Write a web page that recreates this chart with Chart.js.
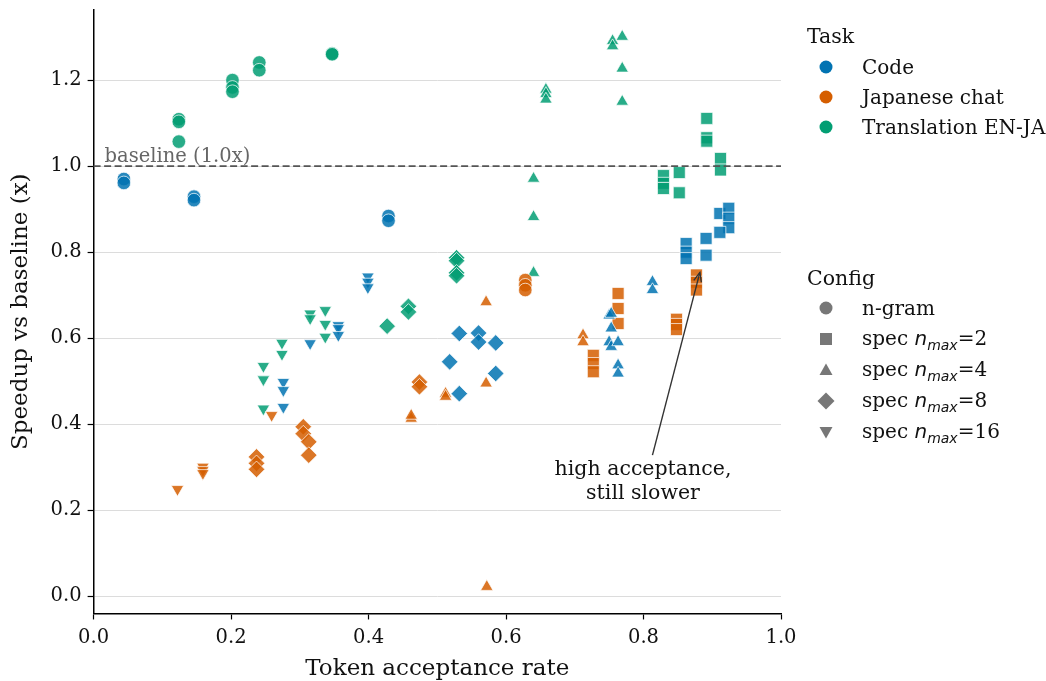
<!DOCTYPE html>
<html>
<head>
<meta charset="utf-8">
<script src="https://cdn.jsdelivr.net/npm/chart.js@4"></script>
<style>
  body { margin: 0; background: #fff; font-family: "DejaVu Serif", serif; }
  #wrap { position: relative; width: 1046px; height: 681px; }
  #legend { position: absolute; left: 0; top: 0; color: #111; }
  .item { position: absolute; display: flex; align-items: center; height: 30px; font-size: 20px; white-space: nowrap; }
  .item svg { width: 24px; height: 20px; margin-right: 24px; }
  .title { position: absolute; font-size: 20.5px; height: 30px; line-height: 30px; white-space: nowrap; }
  .m { font-family: "DejaVu Sans", sans-serif; font-style: italic; }
  sub { font-size: 14px; }
</style>
</head>
<body>
<div id="wrap">
  <canvas id="speedChart" width="1046" height="681"></canvas>
  <div id="legend"></div>
</div>
<script>
// x = token acceptance rate, y = speedup vs baseline, cfg = config index
const configs = ['n-gram', 'spec2', 'spec4', 'spec8', 'spec16'];

const codeX = [0.044, 0.044, 0.146, 0.146, 0.429, 0.429,
  0.862, 0.862, 0.862, 0.891, 0.891, 0.911, 0.924, 0.924, 0.924, 0.911,
  0.813, 0.813, 0.750, 0.753, 0.753, 0.750, 0.753, 0.763, 0.763, 0.763,
  0.532, 0.560, 0.560, 0.585, 0.518, 0.585, 0.532,
  0.399, 0.399, 0.399, 0.356, 0.356, 0.356, 0.315, 0.276, 0.276, 0.276];
const codeY = [0.970, 0.961, 0.929, 0.921, 0.884, 0.873,
  0.820, 0.800, 0.785, 0.832, 0.793, 0.890, 0.902, 0.879, 0.857, 0.846,
  0.731, 0.712, 0.653, 0.657, 0.623, 0.591, 0.580, 0.591, 0.537, 0.518,
  0.611, 0.612, 0.591, 0.589, 0.545, 0.518, 0.471,
  0.743, 0.731, 0.718, 0.630, 0.623, 0.607, 0.588, 0.498, 0.479, 0.440];
const codeCfg = [0, 0, 0, 0, 0, 0,
  1, 1, 1, 1, 1, 1, 1, 1, 1, 1,
  2, 2, 2, 2, 2, 2, 2, 2, 2, 2,
  3, 3, 3, 3, 3, 3, 3,
  4, 4, 4, 4, 4, 4, 4, 4, 4, 4];

const jaX = [0.628, 0.628, 0.628,
  0.877, 0.877, 0.877, 0.763, 0.763, 0.763, 0.848, 0.848, 0.848, 0.727, 0.727, 0.727,
  0.712, 0.712, 0.571, 0.571, 0.572, 0.512, 0.512, 0.462, 0.462,
  0.474, 0.474, 0.305, 0.305, 0.313, 0.313, 0.237, 0.237, 0.237,
  0.122, 0.159, 0.159, 0.159, 0.259];
const jaY = [0.735, 0.723, 0.712,
  0.747, 0.730, 0.712, 0.704, 0.669, 0.634, 0.644, 0.632, 0.620, 0.560, 0.541, 0.522,
  0.607, 0.591, 0.684, 0.495, 0.022, 0.471, 0.464, 0.413, 0.420,
  0.498, 0.487, 0.394, 0.378, 0.359, 0.328, 0.324, 0.309, 0.295,
  0.249, 0.301, 0.293, 0.286, 0.421];
const jaCfg = [0, 0, 0,
  1, 1, 1, 1, 1, 1, 1, 1, 1, 1, 1, 1,
  2, 2, 2, 2, 2, 2, 2, 2, 2,
  3, 3, 3, 3, 3, 3, 3, 3, 3,
  4, 4, 4, 4, 4];

const trX = [0.124, 0.124, 0.124, 0.202, 0.202, 0.202, 0.241, 0.241, 0.347, 0.347,
  0.892, 0.892, 0.892, 0.912, 0.912, 0.829, 0.829, 0.829, 0.852, 0.852,
  0.755, 0.755, 0.769, 0.769, 0.769, 0.658, 0.658, 0.658, 0.640, 0.640, 0.640,
  0.528, 0.528, 0.528, 0.528, 0.458, 0.458, 0.427,
  0.315, 0.315, 0.337, 0.337, 0.337, 0.274, 0.274, 0.247, 0.247, 0.247];
const trY = [1.109, 1.103, 1.057, 1.200, 1.183, 1.173, 1.241, 1.223, 1.262, 1.260,
  1.111, 1.066, 1.058, 1.018, 0.991, 0.978, 0.960, 0.948, 0.985, 0.938,
  1.291, 1.279, 1.301, 1.227, 1.150, 1.178, 1.168, 1.155, 0.971, 0.882, 0.752,
  0.787, 0.780, 0.752, 0.745, 0.674, 0.661, 0.628,
  0.657, 0.646, 0.665, 0.633, 0.603, 0.589, 0.563, 0.535, 0.504, 0.436];
const trCfg = [0, 0, 0, 0, 0, 0, 0, 0, 0, 0,
  1, 1, 1, 1, 1, 1, 1, 1, 1, 1,
  2, 2, 2, 2, 2, 2, 2, 2, 2, 2, 2,
  3, 3, 3, 3, 3, 3, 3,
  4, 4, 4, 4, 4, 4, 4, 4, 4, 4];

const yTicks = [0.0, 0.2, 0.4, 0.6, 0.8, 1.0, 1.2];

const tasks = [
  { name: 'Code', color: '1, 115, 178', x: codeX, y: codeY, cfg: codeCfg },
  { name: 'Japanese chat', color: '213, 94, 0', x: jaX, y: jaY, cfg: jaCfg },
  { name: 'Translation EN-JA', color: '2, 158, 115', x: trX, y: trY, cfg: trCfg }
];

// marker per config
const shapes = [
  { style: 'circle', r: 6.8, rot: 0 },
  { style: 'rect', r: 8.5, rot: 0 },
  { style: 'triangle', r: 7.2, rot: 0 },
  { style: 'rectRot', r: 8.3, rot: 0 },
  { style: 'triangle', r: 7.2, rot: 180 }
];

const datasets = [];
tasks.forEach(t => {
  configs.forEach((c, ci) => {
    const pts = [];
    t.x.forEach((xv, i) => { if (t.cfg[i] === ci) pts.push({ x: xv, y: t.y[i] }); });
    datasets.push({
      label: t.name + ' ' + c,
      data: pts,
      pointStyle: shapes[ci].style,
      pointRadius: shapes[ci].r,
      pointRotation: shapes[ci].rot,
      backgroundColor: 'rgba(' + t.color + ', 0.85)',
      borderColor: 'rgba(255,255,255,0.9)',
      borderWidth: 0.8
    });
  });
});

const extras = {
  id: 'extras',
  afterDatasetsDraw(chart) {
    const ctx = chart.ctx;
    const xs = chart.scales.x, ys = chart.scales.y;
    const area = chart.chartArea;
    ctx.save();
    // baseline
    ctx.strokeStyle = '#555';
    ctx.lineWidth = 1.6;
    ctx.setLineDash([7, 3.5]);
    ctx.beginPath();
    ctx.moveTo(area.left, ys.getPixelForValue(1.0));
    ctx.lineTo(area.right, ys.getPixelForValue(1.0));
    ctx.stroke();
    ctx.setLineDash([]);
    ctx.fillStyle = '#666';
    ctx.font = '19.5px "DejaVu Serif"';
    ctx.textBaseline = 'alphabetic';
    ctx.fillText('baseline (1.0x)', xs.getPixelForValue(0.016), ys.getPixelForValue(1.0) - 4);

    // annotation arrow
    const x0 = xs.getPixelForValue(0.813), y0 = ys.getPixelForValue(0.328);
    const x1 = xs.getPixelForValue(0.882), y1 = ys.getPixelForValue(0.753);
    ctx.strokeStyle = '#333';
    ctx.lineWidth = 1.4;
    ctx.beginPath();
    ctx.moveTo(x0, y0);
    ctx.lineTo(x1, y1);
    ctx.stroke();
    const a = Math.atan2(y1 - y0, x1 - x0);
    ctx.beginPath();
    ctx.moveTo(x1 - 10 * Math.cos(a - 0.4), y1 - 10 * Math.sin(a - 0.4));
    ctx.lineTo(x1, y1);
    ctx.lineTo(x1 - 10 * Math.cos(a + 0.4), y1 - 10 * Math.sin(a + 0.4));
    ctx.stroke();
    ctx.fillStyle = '#111';
    ctx.font = '20.5px "DejaVu Serif"';
    ctx.textAlign = 'center';
    ctx.textBaseline = 'middle';
    ctx.fillText('high acceptance,', 643, 470);
    ctx.fillText('still slower', 643, 494);
    ctx.restore();
  }
};

Chart.defaults.font.family = '"DejaVu Serif", serif';
Chart.defaults.color = '#111';

new Chart(document.getElementById('speedChart'), {
  type: 'scatter',
  data: { datasets: datasets },
  options: {
    responsive: false,
    animation: false,
    layout: { padding: { left: 3, right: 265, top: 10, bottom: 0 } },
    plugins: { legend: { display: false }, tooltip: { enabled: false } },
    scales: {
      x: {
        min: 0, max: 1,
        ticks: { stepSize: 0.2, font: { size: 19.5 }, color: '#111', padding: 7,
          callback: v => v.toFixed(1) },
        grid: { drawOnChartArea: false, tickLength: 6, tickColor: '#000', tickWidth: 1.2 },
        border: { color: '#000', width: 1.5 },
        title: { display: true, text: 'Token acceptance rate', font: { size: 23, lineHeight: 1.05 }, color: '#111', padding: { top: 0, bottom: 0 } }
      },
      y: {
        min: -0.04, max: 1.363,
        afterBuildTicks: axis => { axis.ticks = yTicks.map(v => ({ value: v })); },
        afterFit: axis => { axis.paddingTop = 0; axis.paddingBottom = 0; },
        ticks: { font: { size: 19.5 }, color: '#111', padding: 6,
          callback: v => v.toFixed(1) },
        grid: { color: '#dcdcdc', lineWidth: 1, tickLength: 6, tickColor: '#000', tickWidth: 1.2 },
        border: { color: '#000', width: 1.5 },
        title: { display: true, text: 'Speedup vs baseline (x)', font: { size: 23 }, color: '#111', padding: { bottom: 10 } }
      }
    }
  },
  plugins: [extras]
});

// legend in html
const gray = '#777';
function marker(ci, color) {
  const s = ['<circle cx="12" cy="10" r="6.5" fill="' + color + '"/>',
    '<rect x="6" y="4" width="12" height="12" fill="' + color + '"/>',
    '<polygon points="12,3.5 18.5,15 5.5,15" fill="' + color + '"/>',
    '<polygon points="12,1.5 20.5,10 12,18.5 3.5,10" fill="' + color + '"/>',
    '<polygon points="12,16.5 18.5,5 5.5,5" fill="' + color + '"/>'][ci];
  return '<svg viewBox="0 0 24 20">' + s + '</svg>';
}
const nmax = n => 'spec <span class="m">n</span><sub class="m">max</sub>=' + n;
const configNames = ['n-gram', nmax(2), nmax(4), nmax(8), nmax(16)];
const taskRows = [67, 97, 127];
const cfgRows = [308, 339, 370, 401, 432];
let html = '<div class="title" style="left:807px;top:' + (36 - 15) + 'px">Task</div>';
tasks.forEach((t, i) => {
  html += '<div class="item" style="left:814px;top:' + (taskRows[i] - 15) + 'px">' +
    marker(0, 'rgb(' + t.color + ')') + '<span>' + t.name + '</span></div>';
});
html += '<div class="title" style="left:807px;top:' + (278 - 15) + 'px">Config</div>';
configNames.forEach((c, ci) => {
  html += '<div class="item" style="left:814px;top:' + (cfgRows[ci] - 15) + 'px">' +
    marker(ci, gray) + '<span>' + c + '</span></div>';
});
document.getElementById('legend').innerHTML = html;
</script>
</body>
</html>
